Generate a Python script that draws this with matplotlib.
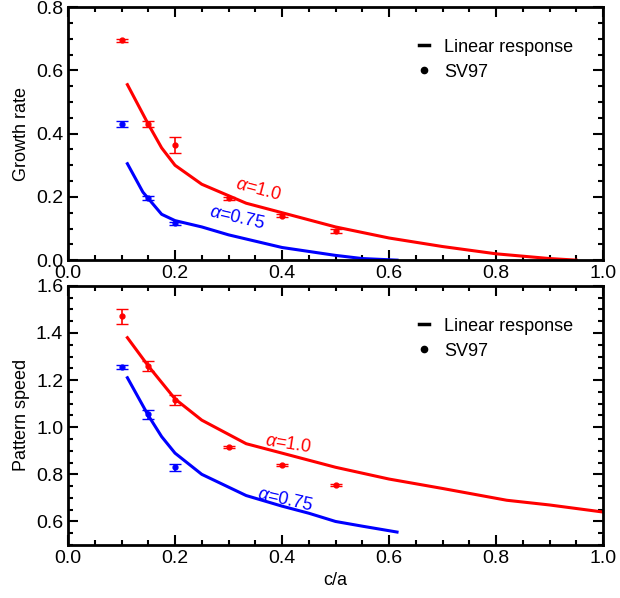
import matplotlib.pyplot as plt
import numpy as np
from matplotlib.lines import Line2D
from matplotlib.ticker import MultipleLocator

plt.rcParams['font.family'] = ['Liberation Sans', 'DejaVu Sans']
plt.rcParams['mathtext.fontset'] = 'custom'
plt.rcParams['mathtext.it'] = 'Liberation Sans:italic'
plt.rcParams['mathtext.rm'] = 'Liberation Sans'

# SV97 simulation points
ca_pts = [0.1, 0.15, 0.2, 0.3, 0.4, 0.5]
ca_pts_b = [0.1, 0.15, 0.2]
gr_red = [0.695, 0.43, 0.365, 0.195, 0.14, 0.093]
gr_red_err = [0.005, 0.01, 0.025, 0.005, 0.005, 0.007]
gr_blue = [0.43, 0.197, 0.117]
gr_blue_err = [0.01, 0.007, 0.005]
ps_red = [1.47, 1.26, 1.115, 0.915, 0.84, 0.755]
ps_red_err = [0.03, 0.02, 0.02, 0.005, 0.005, 0.005]
ps_blue = [1.255, 1.055, 0.83]
ps_blue_err = [0.01, 0.02, 0.015]

# linear response curves
ca_lr_red = [0.111, 0.15, 0.175, 0.2, 0.25, 0.333, 0.4, 0.5, 0.6, 0.7, 0.8, 0.9, 0.95]
gr_lr_red = [0.555, 0.43, 0.355, 0.30, 0.24, 0.18, 0.15, 0.105, 0.07, 0.043, 0.02, 0.005, 0.0]
ca_lr_blue = [0.111, 0.14, 0.15, 0.175, 0.2, 0.25, 0.3, 0.4, 0.5, 0.55, 0.615]
gr_lr_blue = [0.305, 0.215, 0.195, 0.145, 0.125, 0.105, 0.08, 0.04, 0.015, 0.005, 0.0]

ca_ps_red = [0.111, 0.15, 0.2, 0.25, 0.333, 0.4, 0.5, 0.6, 0.7, 0.82, 0.9, 1.0]
ps_lr_red = [1.38, 1.26, 1.12, 1.03, 0.93, 0.89, 0.83, 0.78, 0.74, 0.69, 0.67, 0.64]
ca_ps_blue = [0.111, 0.15, 0.175, 0.2, 0.25, 0.333, 0.4, 0.45, 0.5, 0.55, 0.615]
ps_lr_blue = [1.21, 1.05, 0.96, 0.89, 0.80, 0.71, 0.665, 0.635, 0.60, 0.58, 0.555]

fig = plt.figure(figsize=(6.2, 5.98), dpi=100)
ax1 = fig.add_axes([0.1097, 0.565, 0.8629, 0.423])
ax2 = fig.add_axes([0.1097, 0.0886, 0.8629, 0.4334])

red = '#ff0000'
blue = '#0000ff'

ax1.plot(ca_lr_red, gr_lr_red, color=red, lw=2.2)
ax1.plot(ca_lr_blue, gr_lr_blue, color=blue, lw=2.2)
ax1.errorbar(ca_pts, gr_red, yerr=gr_red_err, fmt='o', ms=3.5, color=red, capsize=4, elinewidth=1.2)
ax1.errorbar(ca_pts_b, gr_blue, yerr=gr_blue_err, fmt='o', ms=3.5, color=blue, capsize=4, elinewidth=1.2)
ax1.text(0.31, 0.19, r'$\alpha$=1.0', color=red, fontsize=13, rotation=-15)
ax1.text(0.26, 0.10, r'$\alpha$=0.75', color=blue, fontsize=13, rotation=-13)
ax1.set_ylim(0, 0.8)
ax1.set_ylabel('Growth rate', fontsize=13)

ax2.plot(ca_ps_red, ps_lr_red, color=red, lw=2.2)
ax2.plot(ca_ps_blue, ps_lr_blue, color=blue, lw=2.2)
ax2.errorbar(ca_pts, ps_red, yerr=ps_red_err, fmt='o', ms=3.5, color=red, capsize=4, elinewidth=1.2)
ax2.errorbar(ca_pts_b, ps_blue, yerr=ps_blue_err, fmt='o', ms=3.5, color=blue, capsize=4, elinewidth=1.2)
ax2.text(0.365, 0.895, r'$\alpha$=1.0', color=red, fontsize=13, rotation=-9)
ax2.text(0.35, 0.645, r'$\alpha$=0.75', color=blue, fontsize=13, rotation=-13)
ax2.set_ylim(0.5, 1.6)
ax2.set_ylabel('Pattern speed', fontsize=13)
ax2.set_xlabel('c/a', fontsize=13)

handles = [Line2D([], [], color='black', lw=2.5),
           Line2D([], [], color='black', marker='o', ms=4.5, lw=0)]
for ax, top in ((ax1, 0.94), (ax2, 0.94)):
    ax.set_xlim(0, 1)
    ax.xaxis.set_major_locator(MultipleLocator(0.2))
    ax.xaxis.set_minor_locator(MultipleLocator(0.05))
    ax.yaxis.set_major_locator(MultipleLocator(0.2))
    ax.yaxis.set_minor_locator(MultipleLocator(0.05))
    ax.tick_params(which='both', direction='in', top=True, right=True, width=1.5)
    ax.tick_params(which='major', length=7, labelsize=14)
    ax.tick_params(which='minor', length=3.5)
    for s in ax.spines.values():
        s.set_linewidth(2)
    ax.legend(handles, ['Linear response', 'SV97'], loc='upper left',
              bbox_to_anchor=(0.625, top), frameon=False, fontsize=13,
              handlelength=0.6, handletextpad=0.8, labelspacing=0.45)

fig.savefig('out.png', dpi=100)
